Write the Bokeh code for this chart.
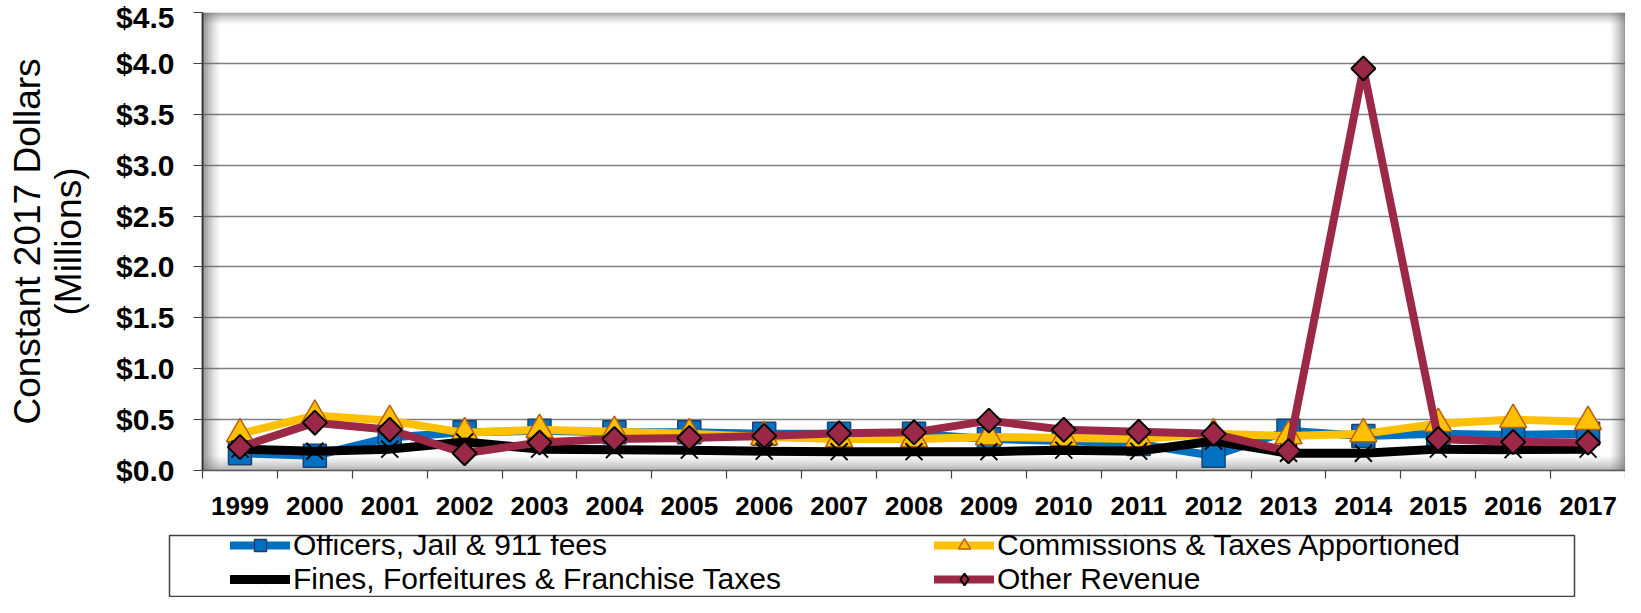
import math
from bokeh.plotting import figure
from bokeh.layouts import column
from bokeh.models import (Range1d, FixedTicker, NumeralTickFormatter, Legend, LegendItem,
                          BoxAnnotation)
from bokeh.embed import file_html
from bokeh.resources import INLINE

years = [1999, 2000, 2001, 2002, 2003, 2004, 2005, 2006, 2007, 2008,
         2009, 2010, 2011, 2012, 2013, 2014, 2015, 2016, 2017]
officers = [0.17, 0.145, 0.325, 0.375, 0.39, 0.375, 0.375, 0.36, 0.36, 0.36,
            0.31, 0.29, 0.26, 0.145, 0.39, 0.34, 0.36, 0.35, 0.36]
commissions = [0.36, 0.54, 0.49, 0.37, 0.40, 0.38, 0.36, 0.33, 0.31, 0.31,
               0.33, 0.32, 0.31, 0.36, 0.34, 0.36, 0.46, 0.50, 0.48]
fines = [0.21, 0.19, 0.21, 0.28, 0.21, 0.205, 0.20, 0.19, 0.185, 0.185,
         0.185, 0.20, 0.19, 0.29, 0.17, 0.17, 0.21, 0.205, 0.21]
other = [0.23, 0.47, 0.40, 0.17, 0.275, 0.31, 0.32, 0.34, 0.365, 0.375,
         0.49, 0.40, 0.38, 0.36, 0.19, 3.95, 0.31, 0.28, 0.275]
series_names = ["Officers, Jail & 911 fees", "Commissions & Taxes Apportioned",
                "Fines, Forfeitures & Franchise Taxes", "Other Revenue"]
y_ticks = [0.0, 0.5, 1.0, 1.5, 2.0, 2.5, 3.0, 3.5, 4.0, 4.5]
y_title = "Constant 2017 Dollars\n(Millions)"

xs = list(range(len(years)))

# series styles
STY = [
    dict(color="#0070C0", lw=8, marker="square", size=23, fill="#0070C0", edge="#1F3F6F", elw=1.5, angle=0.0),
    dict(color="#FFC000", lw=8, marker="triangle", size=27, fill="#FFC000", edge="#B8600B", elw=1.5, angle=0.0),
    dict(color="black", lw=9, marker="x", size=24, fill=None, edge="black", elw=2, angle=0.0),
    dict(color="#9B2846", lw=8, marker="square", size=17, fill="#9B2846", edge="black", elw=2, angle=math.pi / 4),
]
values = [officers, commissions, fines, other]

def draw_series(fig, visible=True, legend_mode=False):
    out = []
    for vals, s in zip(values, STY):
        ln = fig.line(xs, vals, line_color=s["color"], line_width=s["lw"],
                      line_join="round", line_cap="round", visible=visible)
        marker, angle, elw = s["marker"], s["angle"], s["elw"]
        if legend_mode and angle != 0.0:
            marker, angle = "diamond", 0.0
        if legend_mode and marker == "x":
            elw = 1.5
        kw = dict(marker=marker, size=s["size"], line_color=s["edge"],
                  line_width=elw, angle=angle, visible=visible)
        if s["fill"] is not None:
            kw["fill_color"] = s["fill"]
        sc = fig.scatter(xs, vals, **kw)
        out.append((ln, sc))
    return out

W = 1625
H1 = 532
ML, MR, MT = 202, 0, 12
FH = 458
MB = H1 - MT - FH
FW = W - ML - MR

p = figure(width=W, height=H1, output_backend="svg", toolbar_location=None,
           x_range=Range1d(-0.5, len(years) - 0.5), y_range=Range1d(0, 4.5),
           min_border_left=ML, min_border_right=MR, min_border_top=MT, min_border_bottom=MB)
p.frame_align = False
p.outline_line_color = None
p.background_fill_color = "white"
p.border_fill_color = "white"

# 3-D style shading along the plot-area edges
def shade(side, depth, n, color, amax):
    step = depth / n
    for i in range(n):
        a = amax * (1 - i / n) ** 1.5
        kw = dict(fill_color=color, fill_alpha=a, line_alpha=0, level="underlay")
        if side == "left":
            b = BoxAnnotation(left=i * step, right=(i + 1) * step,
                              left_units="screen", right_units="screen", **kw)
        elif side == "right":
            b = BoxAnnotation(left=FW - (i + 1) * step, right=FW - i * step,
                              left_units="screen", right_units="screen", **kw)
        elif side == "top":
            b = BoxAnnotation(top=FH - i * step, bottom=FH - (i + 1) * step,
                              top_units="screen", bottom_units="screen", **kw)
        else:
            b = BoxAnnotation(bottom=i * step, top=(i + 1) * step,
                              top_units="screen", bottom_units="screen", **kw)
        p.add_layout(b)

shade("left", 18, 9, "#606060", 0.7)
shade("top", 12, 6, "#606060", 0.55)
shade("right", 16, 8, "#606060", 0.65)
shade("bottom", 16, 8, "#707070", 0.55)

# axes
p.xaxis.ticker = FixedTicker(ticks=xs, minor_ticks=[i - 0.5 for i in range(len(years) + 1)])
p.xaxis.major_label_overrides = {i: str(y) for i, y in zip(xs, years)}
p.xaxis.major_tick_out = 0
p.xaxis.major_tick_in = 0
p.xaxis.minor_tick_out = 8
p.xaxis.minor_tick_in = 0
p.xaxis.minor_tick_line_color = "#404040"
p.xaxis.minor_tick_line_width = 1.2
p.xaxis.axis_line_color = "#595959"
p.xaxis.axis_line_width = 1.5
p.xaxis.major_label_standoff = 18
p.xaxis.major_label_text_font = "Liberation Sans"
p.xaxis.major_label_text_font_style = "bold"
p.xaxis.major_label_text_font_size = "26px"
p.xaxis.major_label_text_color = "black"

p.yaxis.ticker = FixedTicker(ticks=y_ticks)
p.yaxis.formatter = NumeralTickFormatter(format="$0.0")
p.yaxis.major_tick_out = 9
p.yaxis.major_tick_in = 0
p.yaxis.minor_tick_out = 0
p.yaxis.minor_tick_in = 0
p.yaxis.major_tick_line_color = "#404040"
p.yaxis.major_tick_line_width = 1.2
p.yaxis.axis_line_color = "#303030"
p.yaxis.axis_line_width = 1.8
p.yaxis.major_label_standoff = 19
p.yaxis.major_label_text_font = "Liberation Sans"
p.yaxis.major_label_text_font_style = "bold"
p.yaxis.major_label_text_font_size = "30px"
p.yaxis.major_label_text_color = "black"
p.yaxis.axis_label = y_title
p.yaxis.axis_label_standoff = 24
p.yaxis.axis_label_text_font = "Liberation Sans"
p.yaxis.axis_label_text_font_style = "normal"
p.yaxis.axis_label_text_font_size = "37px"
p.yaxis.axis_label_text_line_height = 1.0
p.yaxis.axis_label_text_color = "black"

p.xgrid.grid_line_color = None
p.ygrid.ticker = FixedTicker(ticks=y_ticks)
p.ygrid.grid_line_color = "#7f7f7f"
p.ygrid.grid_line_width = 1.5

draw_series(p)

# legend panel (frame outline = legend border)
H2 = 597 - H1
LL = 169
LW = 1405
p2 = figure(width=W, height=H2, output_backend="svg", toolbar_location=None,
            x_range=Range1d(100, 101), y_range=Range1d(100, 101),
            x_axis_type=None, y_axis_type=None,
            min_border_left=LL, min_border_right=W - LL - LW,
            min_border_top=3, min_border_bottom=1)
p2.frame_align = False
p2.grid.grid_line_color = None
p2.outline_line_color = "#404040"
p2.outline_line_width = 1.5
p2.background_fill_color = "white"
p2.border_fill_color = "white"

rr = draw_series(p2, visible=False, legend_mode=True)
order = [0, 2, 1, 3]
leg = Legend(items=[LegendItem(label=series_names[i], renderers=list(rr[i])) for i in order],
             location=(61, 0), orientation="vertical", ncols=2,
             padding=0, margin=0, spacing=0, glyph_width=60, glyph_height=30,
             label_standoff=3, label_height=30, label_width=641,
             label_text_font="Liberation Sans", label_text_font_size="30px",
             label_text_color="black", background_fill_alpha=0,
             border_line_alpha=0, inactive_fill_alpha=0)
p2.add_layout(leg)

open("out.html", "w").write(file_html(column(p, p2, spacing=0), INLINE))
